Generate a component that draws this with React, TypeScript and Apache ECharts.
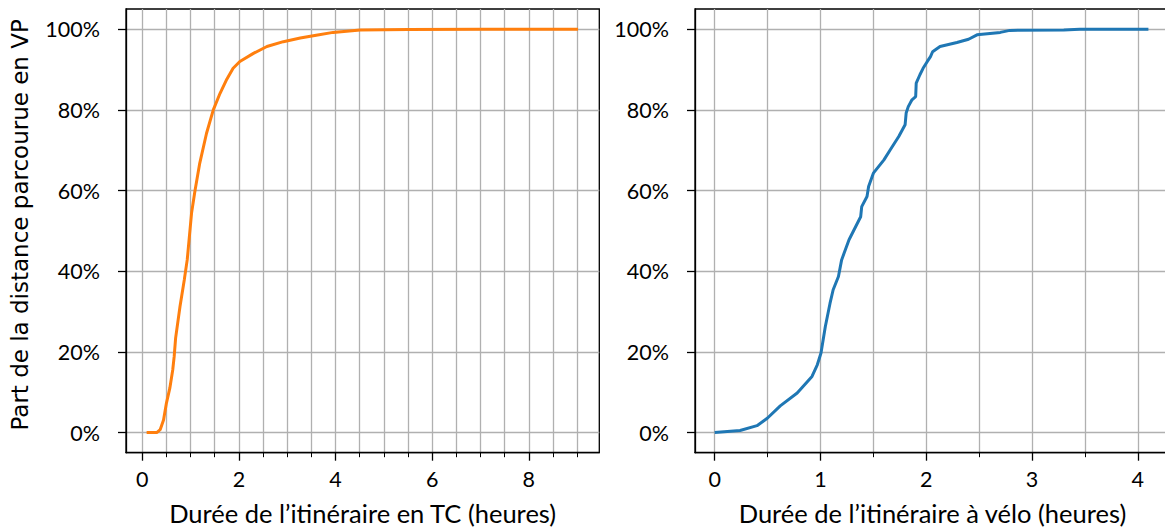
import React, { useEffect, useRef } from "react";
import * as echarts from "echarts";

// Durée TC (heures) vs part cumulée (%)
const tcHours = [0.09, 0.3, 0.37, 0.44, 0.5, 0.57, 0.63, 0.66, 0.69, 0.78, 0.87, 0.93, 1.02, 1.09, 1.19, 1.33, 1.47, 1.61, 1.75, 1.88, 2.02, 2.3, 2.58, 2.92, 3.27, 3.6, 3.95, 4.51, 5.5, 7.0, 9.02];
const tcShare = [0, 0, 0.7, 3.1, 7.3, 11, 15.5, 18.8, 23.4, 31.2, 37.9, 42.8, 54.4, 59.9, 66.8, 74.2, 80, 84.1, 87.6, 90.3, 92, 94, 95.7, 96.9, 97.8, 98.5, 99.2, 99.8, 99.9, 100, 100];

// Durée vélo (heures) vs part cumulée (%)
const veloHours = [0, 0.24, 0.4, 0.5, 0.62, 0.78, 0.92, 0.97, 1.005, 1.046, 1.09, 1.12, 1.17, 1.2, 1.27, 1.38, 1.39, 1.44, 1.455, 1.5, 1.6, 1.66, 1.74, 1.8, 1.81, 1.83, 1.865, 1.9, 1.905, 1.94, 1.97, 2.01, 2.04, 2.06, 2.13, 2.29, 2.4, 2.48, 2.7, 2.79, 3.3, 3.45, 4.1];
const veloShare = [0, 0.5, 1.7, 3.6, 6.6, 9.8, 13.9, 16.8, 19.7, 26.3, 32, 35.4, 38.7, 42.8, 47.8, 53.5, 56, 58.5, 61, 64.3, 67.6, 70.1, 73.4, 76.3, 79.2, 80.8, 82.5, 83.3, 86.6, 88.7, 90.3, 92, 93.2, 94.4, 95.7, 96.7, 97.5, 98.6, 99.2, 99.7, 99.8, 100, 100];

const yTicks = [0, 20, 40, 60, 80, 100];
const tcMajorTicks = [0, 2, 4, 6, 8];
const tcMinorTicks = [0, 0.5, 1, 1.5, 2, 2.5, 3, 3.5, 4, 4.5, 5, 5.5, 6, 6.5, 7, 7.5, 8, 8.5, 9];
const veloMajorTicks = [0, 1, 2, 3, 4];
const veloMinorTicks = [0, 0.5, 1, 1.5, 2, 2.5, 3, 3.5, 4];

const tcName = "Durée de l’itinéraire en TC (heures)";
const veloName = "Durée de l’itinéraire à vélo (heures)";
const yName = "Part de la distance parcourue en VP";

const FONT = "Lato";
const TICK_SIZE = 21.5;
const NAME_SIZE = 25.5;

export default function App() {
  const ref = useRef<HTMLDivElement>(null);
  useEffect(() => {
    if (!ref.current) return;
    const chart = echarts.init(ref.current, null, { renderer: "svg" });

    const minorAxis = (gridIndex: number, min: number, max: number, ticks: number[]) => ({
      type: "value",
      gridIndex,
      position: "bottom",
      min,
      max,
      axisLine: { show: true, onZero: false, lineStyle: { color: "#000", width: 1.3 } },
      axisTick: { show: true, length: 4.5, customValues: ticks, lineStyle: { color: "#000", width: 1 } },
      axisLabel: { show: false },
      splitLine: { show: true, lineStyle: { color: "#b0b0b0", width: 1.3 } },
    });
    const majorAxis = (gridIndex: number, min: number, max: number, ticks: number[], name: string) => ({
      type: "value",
      gridIndex,
      position: "bottom",
      min,
      max,
      name,
      nameLocation: "middle",
      nameGap: 47,
      nameTextStyle: { fontFamily: FONT, fontSize: NAME_SIZE, color: "#000" },
      axisLine: { show: false, onZero: false },
      axisTick: { show: true, length: 8, customValues: ticks, lineStyle: { color: "#000", width: 1.3 } },
      axisLabel: { show: true, customValues: ticks, margin: 15, fontFamily: FONT, fontSize: TICK_SIZE, color: "#000" },
      splitLine: { show: false },
    });
    const yAxis = (gridIndex: number, name: string) => ({
      type: "value",
      gridIndex,
      min: -5,
      max: 105,
      name,
      nameLocation: "middle",
      nameGap: 95,
      nameTextStyle: { fontFamily: "DejaVu Sans", fontSize: 23, color: "#000", padding: [0, 0, 0, 12] },
      axisLine: { show: true, onZero: false, lineStyle: { color: "#000", width: 1.3 } },
      axisTick: { show: true, length: 8, customValues: yTicks, lineStyle: { color: "#000", width: 1.3 } },
      axisLabel: {
        show: true,
        customValues: yTicks,
        margin: 26,
        fontFamily: FONT,
        fontSize: TICK_SIZE,
        color: "#000",
        formatter: (v: number) => `${v}%`,
      },
      splitLine: { show: true, lineStyle: { color: "#b0b0b0", width: 1.3 } },
    });

    chart.setOption({
      animation: false,
      grid: [
        { left: 126, top: 9, width: 473.3, height: 443.7, show: true, borderColor: "#000", borderWidth: 1.3, backgroundColor: "transparent", outerBoundsMode: "none" },
        { left: 695, top: 9, width: 475, height: 443.7, show: true, borderColor: "#000", borderWidth: 1.3, backgroundColor: "transparent", outerBoundsMode: "none" },
      ],
      xAxis: [
        minorAxis(0, -0.337, 9.46, tcMinorTicks),
        majorAxis(0, -0.337, 9.46, tcMajorTicks, tcName),
        minorAxis(1, -0.186, 4.304, veloMinorTicks),
        majorAxis(1, -0.186, 4.304, veloMajorTicks, veloName),
      ],
      yAxis: [yAxis(0, yName), yAxis(1, "")],
      series: [
        {
          type: "line",
          xAxisIndex: 0,
          yAxisIndex: 0,
          data: tcHours.map((h, i) => [h, tcShare[i]]),
          showSymbol: false,
          symbol: "none",
          lineStyle: { color: "#ff7f0e", width: 3 },
          z: 5,
        },
        {
          type: "line",
          xAxisIndex: 2,
          yAxisIndex: 1,
          data: veloHours.map((h, i) => [h, veloShare[i]]),
          showSymbol: false,
          symbol: "none",
          lineStyle: { color: "#1f77b4", width: 3 },
          z: 5,
        },
      ],
    });
    return () => chart.dispose();
  }, []);
  return (
    <div
      ref={ref}
      style={{ position: "fixed", left: 0, top: 0, width: 1165, height: 530, background: "#fff" }}
    />
  );
}
